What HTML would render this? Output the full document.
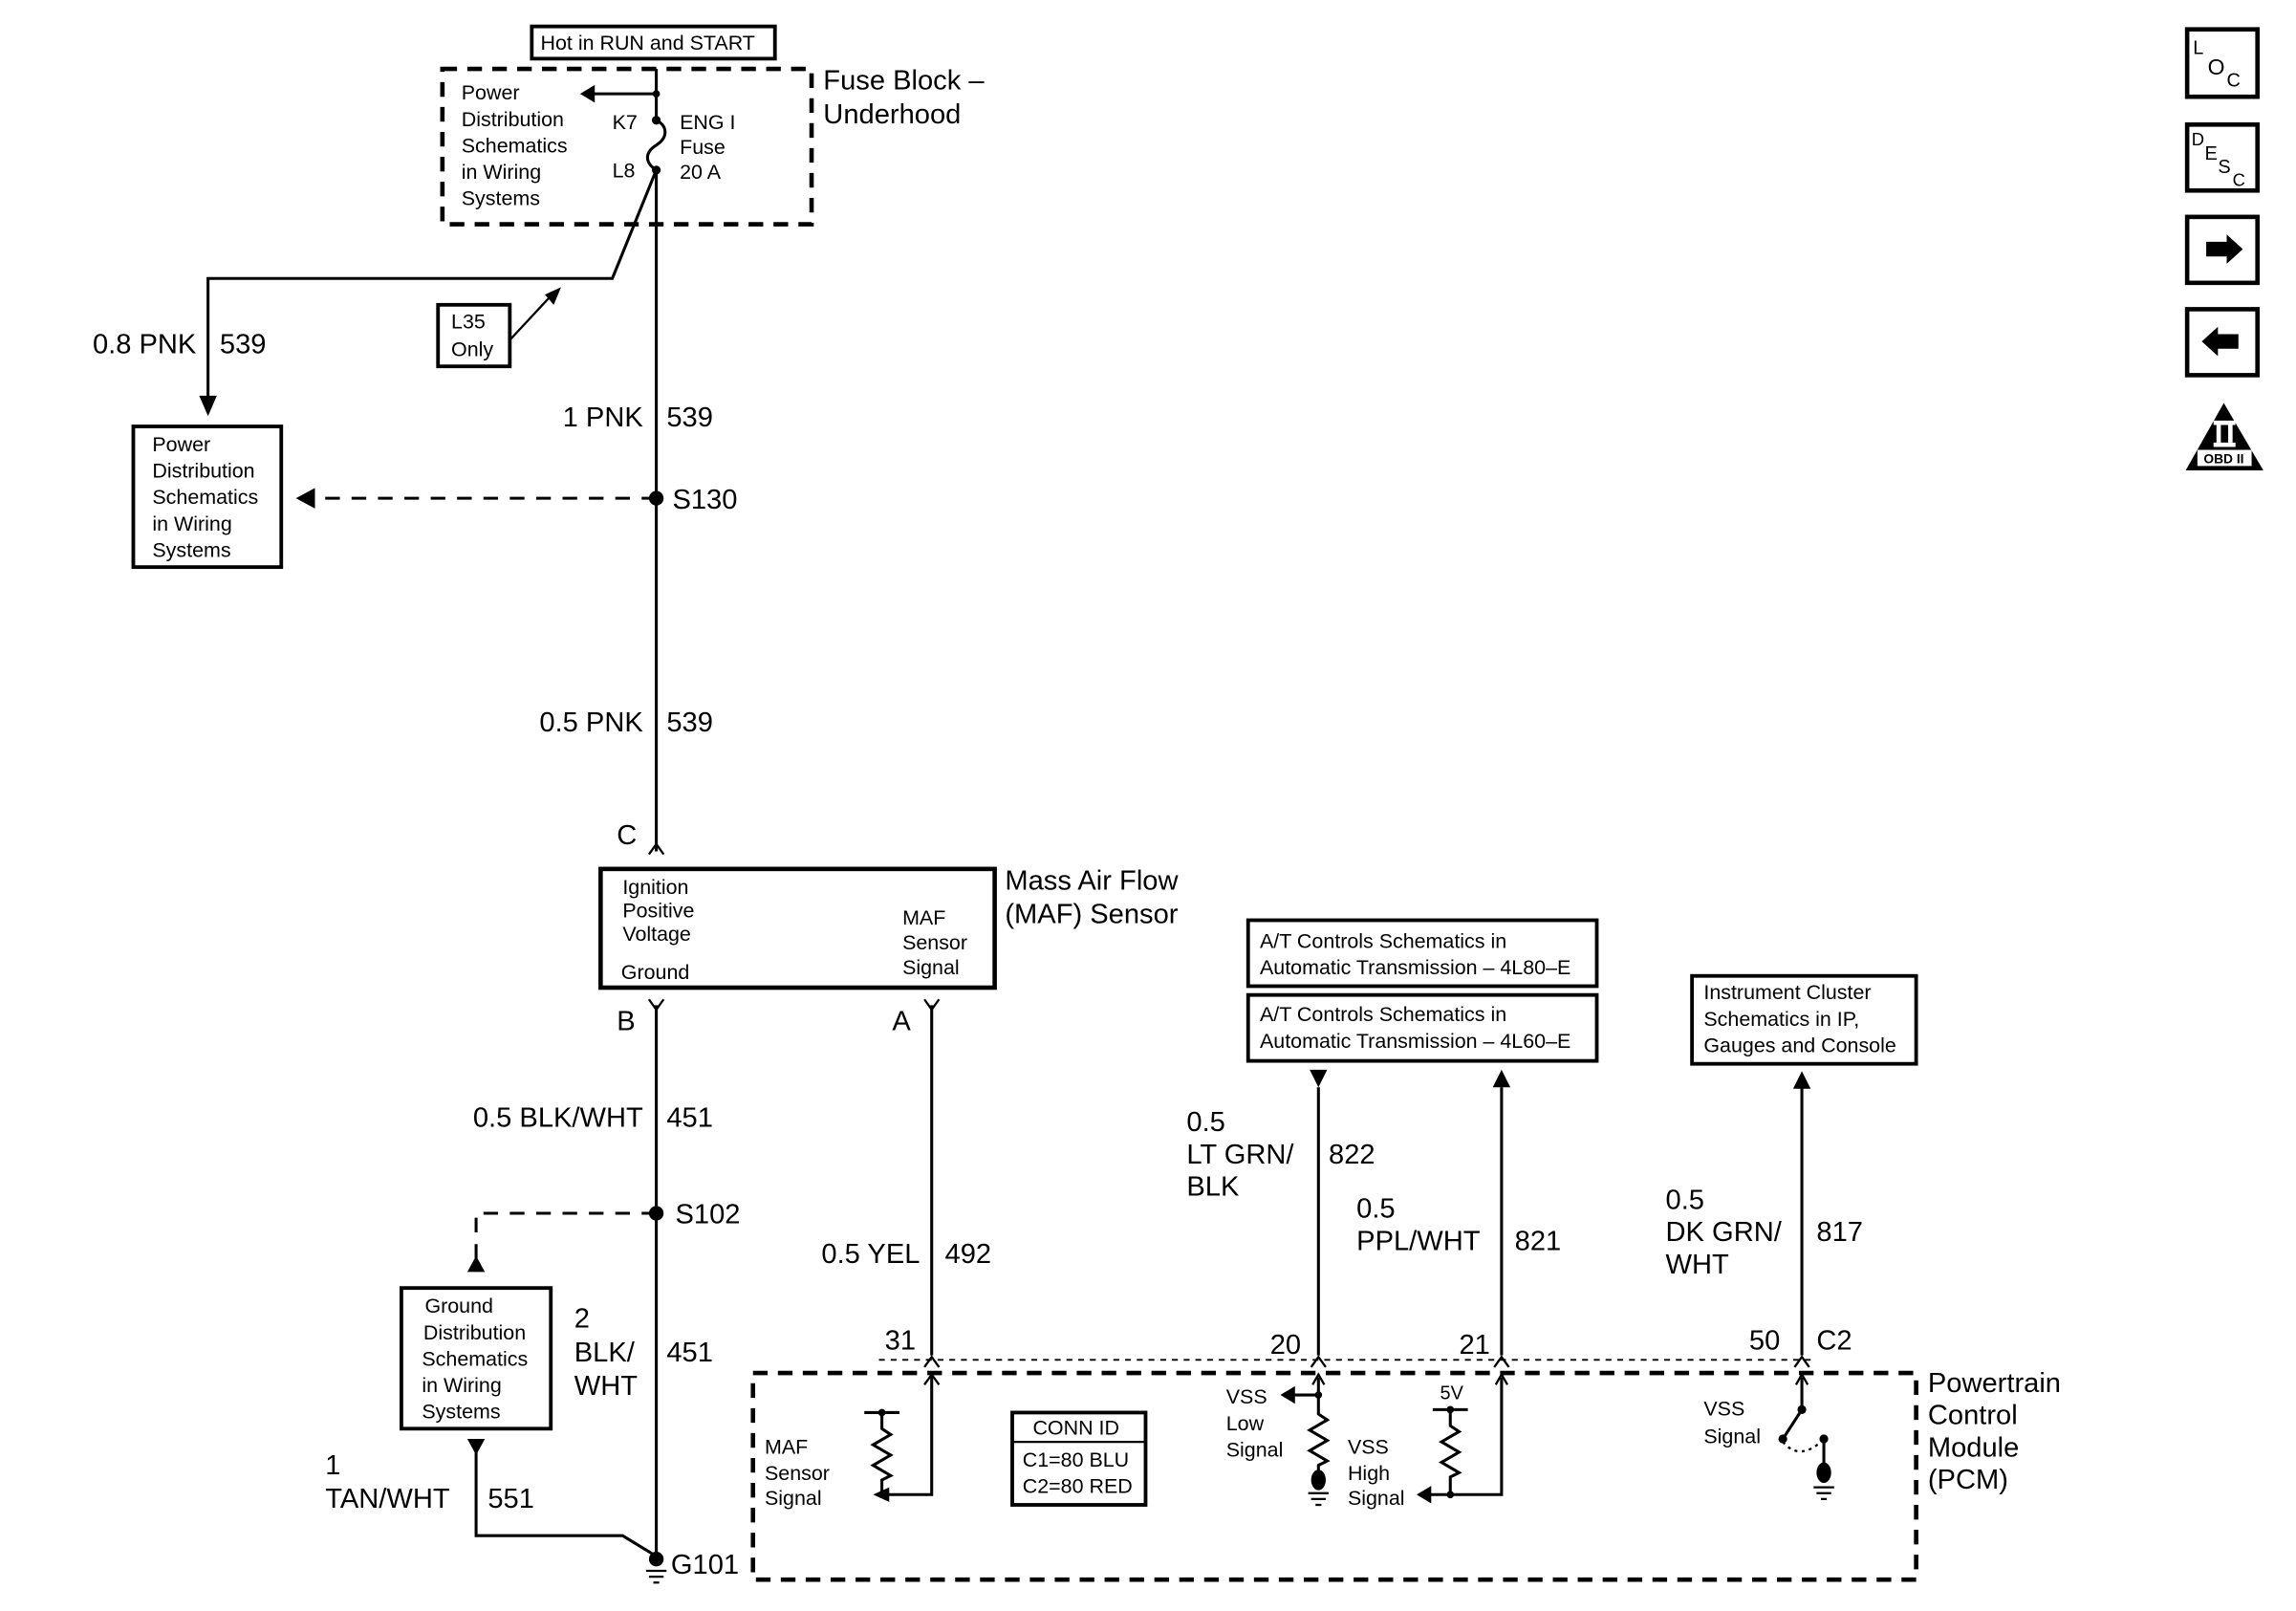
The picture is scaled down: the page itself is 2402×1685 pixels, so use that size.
<!DOCTYPE html>
<html><head><meta charset="utf-8"><style>
html,body{margin:0;padding:0;background:#fff}
svg{display:block}
text{font-family:"Liberation Sans",sans-serif;fill:#000}
.s{font-size:14px}.m{font-size:19px}
</style></head><body>
<svg width="2402" height="1685" viewBox="0 0 1567.3 1099.4" xmlns="http://www.w3.org/2000/svg">
<g fill="none" stroke="#000">
<rect x="363" y="18" width="166" height="22" stroke-width="2.5"/>
<rect x="302" y="47" width="252" height="106" stroke-width="3" stroke-dasharray="10,7"/>
<path d="M448,47V82M448,116V581" stroke-width="2"/>
<path d="M448,82c8,4 8,12 0,17c-8,5 -8,12 0,17" stroke-width="2"/>
<path d="M448,64H404" stroke-width="2"/>
<path d="M448,116L418,190H142V272" stroke-width="2"/>
<rect x="299" y="208" width="49" height="42" stroke-width="2.5"/>
<path d="M348,232L375,203" stroke-width="1.5"/>
<rect x="91" y="291" width="101" height="96" stroke-width="2.5"/>
<path d="M448,340H214" stroke-width="2" stroke-dasharray="10,8"/>
<path d="M443,583L448,576L453,583" stroke-width="1.5"/>
<rect x="410" y="593" width="269" height="81" stroke-width="3"/>
<path d="M443,682L448,689L453,682M631,682L636,689L641,682" stroke-width="1.5"/>
<path d="M448,686V1062M636,686V925" stroke-width="2"/>
<path d="M448,828H325V866" stroke-width="2" stroke-dasharray="10,8"/>
<rect x="274" y="879" width="102" height="96" stroke-width="2.5"/>
<path d="M325,990V1048H425L448,1062" stroke-width="2"/>
<rect x="852" y="628" width="238" height="45" stroke-width="2.5"/>
<rect x="852" y="679" width="238" height="45" stroke-width="2.5"/>
<rect x="1155" y="666" width="153" height="60" stroke-width="2.5"/>
<path d="M900,742V925M1025,742V925M1230,742V925" stroke-width="2"/>
<path d="M631,933L636,926L641,933M895,933L900,926L905,933M1020,933L1025,926L1030,933M1225,933L1230,926L1235,933" stroke-width="1.5"/>
<path d="M600,928H1240" stroke-width="1.2" stroke-dasharray="4,4"/>
<rect x="514" y="937" width="794" height="141" stroke-width="3" stroke-dasharray="10,7"/>
<path d="M636,938V1020H606" stroke-width="2"/>
<path d="M631,945L636,938L641,945M896,945L900,938L904,945M1021,945L1025,938L1029,945M1226,945L1230,938L1234,945" stroke-width="1.5"/>
<path d="M590,964H614M602,964V975l6,4l-12,7l12,7l-12,7l12,7l-6,3V1020" stroke-width="2"/>
<rect x="691" y="964" width="91" height="63" stroke-width="2.5"/>
<path d="M691,984H782" stroke-width="1.5"/>
<path d="M900,940V965l6,4l-12,7l12,7l-12,7l12,7l-6,3V1010M900,952H882" stroke-width="2"/>
<path d="M893,1019H907M895,1023H905M898,1027H902" stroke-width="1.5"/>
<path d="M1025,940V1020H975M978,962H1002M990,962V973l6,4l-12,7l12,7l-12,7l12,7l-6,3V1020" stroke-width="2"/>
<path d="M1230,940V962L1217,982M1245,982V1005" stroke-width="2"/>
<path d="M1217,984q12,14 28,-2" stroke-width="1.5" stroke-dasharray="2,3"/>
<path d="M1238,1015H1252M1240,1019H1250M1243,1023H1247" stroke-width="1.5"/>
<path d="M441,1072H455M443,1076H453M446,1080H450" stroke-width="1.5"/>
<rect x="1493" y="20" width="48" height="46" stroke-width="3"/>
<rect x="1493" y="85" width="48" height="45" stroke-width="3"/>
<rect x="1493" y="148" width="48" height="45" stroke-width="3"/>
<rect x="1493" y="211" width="48" height="45" stroke-width="3"/>
</g>
<g fill="#000">
<circle cx="448" cy="64" r="2.5"/><circle cx="448" cy="82" r="3"/><circle cx="448" cy="116" r="3"/>
<path d="M396,64L406,58V70z"/>
<path d="M142,284L136,270H148z"/>
<path d="M383,196L372,201L378,208z"/>
<circle cx="448" cy="340" r="5"/>
<path d="M202,340L215,333V347z"/>
<circle cx="448" cy="828" r="5"/>
<path d="M325,857L319,868H331z"/>
<path d="M325,993L319,982H331z"/>
<circle cx="448" cy="1064" r="5"/>
<path d="M900,742L894,730H906z"/>
<path d="M1025,730L1019,742H1031z"/>
<path d="M1230,731L1224,743H1236z"/>
<circle cx="602" cy="964" r="2.5"/><circle cx="602" cy="1020" r="2.5"/>
<path d="M596,1020L607,1015V1025z"/>
<circle cx="900" cy="952" r="2.5"/><path d="M874,952L884,946V958z"/>
<ellipse cx="900" cy="1010" rx="5" ry="7"/>
<circle cx="990" cy="962" r="2.5"/><circle cx="990" cy="1020" r="2.5"/>
<path d="M967,1020L977,1014V1026z"/>
<circle cx="1230" cy="962" r="3"/><circle cx="1217" cy="982" r="3"/><circle cx="1245" cy="982" r="3"/>
<ellipse cx="1245" cy="1005" rx="5" ry="7"/>
<path d="M1506,165H1520V160L1531,170L1520,180V175H1506z"/>
<path d="M1528,228H1514V223L1503,233L1514,243V238H1528z"/>
<path d="M1518,275L1545,321H1492z"/>
</g>
<g fill="#fff"><rect x="1511" y="287" width="15" height="3"/><rect x="1511" y="302" width="15" height="3"/><rect x="1513" y="290" width="3" height="12"/><rect x="1521" y="290" width="3" height="12"/><rect x="1500" y="307" width="37" height="11"/></g>
<text x="1518" y="316" text-anchor="middle" style="font-size:9px;font-weight:bold">OBD II</text>
<text x="1497" y="37" style="font-size:13px">L</text><text x="1507" y="51" style="font-size:15px">O</text><text x="1520" y="59" style="font-size:13px">C</text>
<text x="1496" y="99" style="font-size:12px">D</text><text x="1505" y="109" style="font-size:13px">E</text><text x="1514" y="118" style="font-size:13px">S</text><text x="1524" y="127" style="font-size:12px">C</text>
<text x="369" y="34" class="s">Hot in RUN and START</text>
<text class="s"><tspan x="315" y="68">Power</tspan><tspan x="315" y="86">Distribution</tspan><tspan x="315" y="104">Schematics</tspan><tspan x="315" y="122">in Wiring</tspan><tspan x="315" y="140">Systems</tspan></text>
<text x="418" y="88" class="s">K7</text><text x="418" y="121" class="s">L8</text>
<text class="s"><tspan x="464" y="88">ENG I</tspan><tspan x="464" y="105">Fuse</tspan><tspan x="464" y="122">20 A</tspan></text>
<text class="m"><tspan x="562" y="61">Fuse Block –</tspan><tspan x="562" y="84">Underhood</tspan></text>
<text x="308" y="224" class="s">L35</text><text x="308" y="243" class="s">Only</text>
<text x="134" y="241" class="m" text-anchor="end">0.8 PNK</text><text x="150" y="241" class="m">539</text>
<text class="s"><tspan x="104" y="308">Power</tspan><tspan x="104" y="326">Distribution</tspan><tspan x="104" y="344">Schematics</tspan><tspan x="104" y="362">in Wiring</tspan><tspan x="104" y="380">Systems</tspan></text>
<text x="439" y="291" class="m" text-anchor="end">1 PNK</text><text x="455" y="291" class="m">539</text>
<text x="459" y="347" class="m">S130</text>
<text x="439" y="499" class="m" text-anchor="end">0.5 PNK</text><text x="455" y="499" class="m">539</text>
<text x="421" y="576" class="m">C</text>
<text class="s"><tspan x="425" y="610">Ignition</tspan><tspan x="425" y="626">Positive</tspan><tspan x="425" y="642">Voltage</tspan><tspan x="424" y="668">Ground</tspan><tspan x="616" y="631">MAF</tspan><tspan x="616" y="648">Sensor</tspan><tspan x="616" y="665">Signal</tspan></text>
<text class="m"><tspan x="686" y="607">Mass Air Flow</tspan><tspan x="686" y="630">(MAF) Sensor</tspan></text>
<text x="421" y="703" class="m">B</text><text x="609" y="703" class="m">A</text>
<text x="439" y="769" class="m" text-anchor="end">0.5 BLK/WHT</text><text x="455" y="769" class="m">451</text>
<text x="461" y="835" class="m">S102</text>
<text class="s"><tspan x="290" y="896">Ground</tspan><tspan x="289" y="914">Distribution</tspan><tspan x="288" y="932">Schematics</tspan><tspan x="288" y="950">in Wiring</tspan><tspan x="288" y="968">Systems</tspan></text>
<text class="m"><tspan x="392" y="906">2</tspan><tspan x="392" y="929">BLK/</tspan><tspan x="392" y="952">WHT</tspan></text><text x="455" y="929" class="m">451</text>
<text class="m"><tspan x="222" y="1006">1</tspan><tspan x="222" y="1029">TAN/WHT</tspan></text><text x="333" y="1029" class="m">551</text>
<text x="458" y="1074" class="m">G101</text>
<text x="628" y="862" class="m" text-anchor="end">0.5 YEL</text><text x="645" y="862" class="m">492</text>
<text x="604" y="921" class="m">31</text><text x="867" y="924" class="m">20</text><text x="996" y="924" class="m">21</text><text x="1194" y="921" class="m">50</text><text x="1240" y="921" class="m">C2</text>
<text class="s"><tspan x="860" y="647">A/T Controls Schematics in</tspan><tspan x="860" y="665">Automatic Transmission – 4L80–E</tspan><tspan x="860" y="697">A/T Controls Schematics in</tspan><tspan x="860" y="715">Automatic Transmission – 4L60–E</tspan></text>
<text class="s"><tspan x="1163" y="682">Instrument Cluster</tspan><tspan x="1163" y="700">Schematics in IP,</tspan><tspan x="1163" y="718">Gauges and Console</tspan></text>
<text class="m"><tspan x="810" y="772">0.5</tspan><tspan x="810" y="794">LT GRN/</tspan><tspan x="810" y="816">BLK</tspan></text><text x="907" y="794" class="m">822</text>
<text class="m"><tspan x="926" y="831">0.5</tspan><tspan x="926" y="853">PPL/WHT</tspan></text><text x="1034" y="853" class="m">821</text>
<text class="m"><tspan x="1137" y="825">0.5</tspan><tspan x="1137" y="847">DK GRN/</tspan><tspan x="1137" y="869">WHT</tspan></text><text x="1240" y="847" class="m">817</text>
<text class="m"><tspan x="1316" y="950">Powertrain</tspan><tspan x="1316" y="972">Control</tspan><tspan x="1316" y="994">Module</tspan><tspan x="1316" y="1016">(PCM)</tspan></text>
<text class="s"><tspan x="522" y="992">MAF</tspan><tspan x="522" y="1010">Sensor</tspan><tspan x="522" y="1027">Signal</tspan></text>
<text class="s"><tspan x="705" y="979">CONN ID</tspan><tspan x="698" y="1001">C1=80 BLU</tspan><tspan x="698" y="1019">C2=80 RED</tspan></text>
<text class="s"><tspan x="837" y="958">VSS</tspan><tspan x="837" y="976">Low</tspan><tspan x="837" y="994">Signal</tspan></text>
<text x="983" y="955" style="font-size:13px">5V</text>
<text class="s"><tspan x="920" y="992">VSS</tspan><tspan x="920" y="1010">High</tspan><tspan x="920" y="1027">Signal</tspan></text>
<text class="s"><tspan x="1163" y="966">VSS</tspan><tspan x="1163" y="985">Signal</tspan></text>
</svg>
</body></html>
